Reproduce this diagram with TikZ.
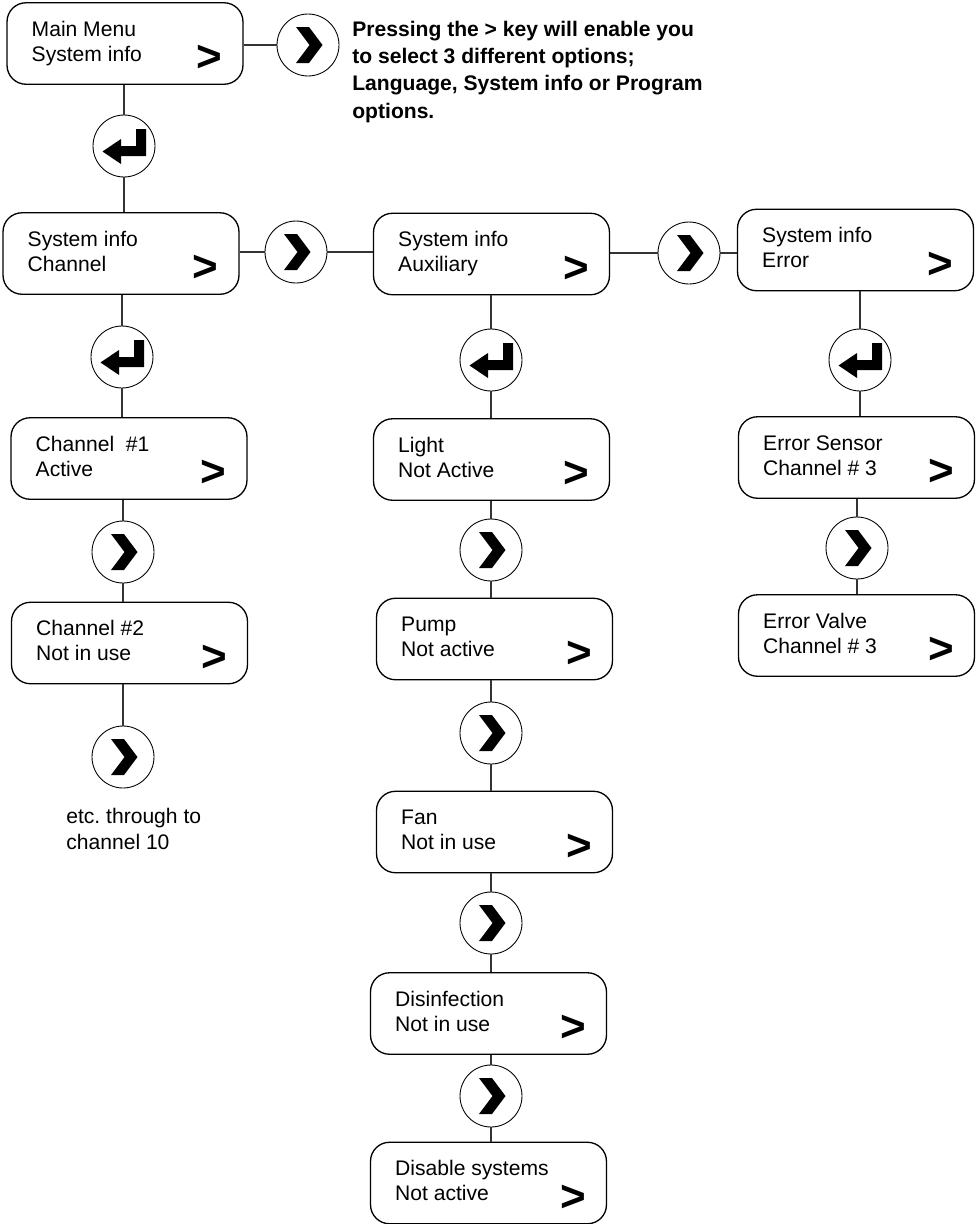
\documentclass[tikz,border=0pt]{standalone}
\usepackage{fontspec}
\setmainfont{Liberation Sans}
\usetikzlibrary{calc}
\frenchspacing

\tikzset{
  menu/.style={draw, rounded corners=0.38cm, minimum width=4.72cm, minimum height=1.63cm, line width=0.75pt},
  entry/.style={anchor=base west, align=left, inner sep=0pt, font=\fontsize{12}{14.2}\selectfont},
  gt/.style={inner sep=0pt, font=\fontsize{25}{25}\selectfont\bfseries},
  keyring/.style={draw, circle, minimum size=1.24cm, inner sep=0pt, line width=0.5pt},
  nextkey/.style={keyring, path picture={\fill[shift={(path picture bounding box.center)}] (-12,-18) -- (1,-18) -- (14.5,0) -- (1,18) -- (-12,18) -- (1.5,0) -- cycle;}},
  enterkey/.style={keyring, path picture={\fill[shift={(path picture bounding box.center)}] (12,-17) -- (22,-17) -- (22,10) -- (-3,10) -- (-3,18) -- (-21.5,5.5) -- (-3,-7) -- (-3,0) -- (12,0) -- cycle;}},
  wire/.style={line width=0.6pt, black!80}
}

\begin{document}
\begin{tikzpicture}[x=0.02cm, y=-0.02cm]
  \useasboundingbox (0,0) rectangle (977,1224);

  \node[menu] (main) at (125,43.5) {};
  \node[entry] (mainT) at ($(main.north west)+(25,59)$) {Main Menu\\System info};
  \node[gt] (mainG) at ($(main.north east)+(-34,56.5)$) {>};

  \node[nextkey] (chev0) at (308,45) {};
  \node[anchor=base west, align=left, inner sep=0pt, font=\fontsize{12}{15.5}\selectfont\bfseries] (note) at (352,118)
    {Pressing the > key will enable you\\to select 3 different options;\\Language, System info or Program\\options.};

  \node[enterkey] (enter0) at (124,146) {};

  \node[menu] (sysch) at (121,253.5) {};
  \node[entry] (syschT) at ($(sysch.north west)+(25,59)$) {System info\\Channel};
  \node[gt] (syschG) at ($(sysch.north east)+(-34,56.5)$) {>};

  \node[nextkey] (chevA) at (296,252) {};

  \node[menu] (sysaux) at (491.5,254) {};
  \node[entry] (sysauxT) at ($(sysaux.north west)+(25,59)$) {System info\\Auxiliary};
  \node[gt] (sysauxG) at ($(sysaux.north east)+(-34,56.5)$) {>};

  \node[nextkey] (chevB) at (689,253) {};

  \node[menu] (syserr) at (855.5,250) {};
  \node[entry] (syserrT) at ($(syserr.north west)+(25,59)$) {System info\\Error};
  \node[gt] (syserrG) at ($(syserr.north east)+(-34,56.5)$) {>};

  \node[enterkey] (enterC) at (122,357) {};
  \node[enterkey] (enterX) at (491,360) {};
  \node[enterkey] (enterE) at (860,360) {};

  \node[menu] (ch1) at (129,458.5) {};
  \node[entry] (ch1T) at ($(ch1.north west)+(25,59)$) {Channel~~\#1\\Active};
  \node[gt] (ch1G) at ($(ch1.north east)+(-34,56.5)$) {>};

  \node[nextkey] (chevC1) at (123,552) {};

  \node[menu] (ch2) at (129.5,643) {};
  \node[entry] (ch2T) at ($(ch2.north west)+(25,59)$) {Channel \#2\\Not in use};
  \node[gt] (ch2G) at ($(ch2.north east)+(-34,56.5)$) {>};

  \node[nextkey] (chevC2) at (123,757) {};
  \node[entry, font=\fontsize{12}{14.8}\selectfont] (etc) at (66,849) {etc. through to\\channel 10};

  \node[menu] (light) at (491.5,459.5) {};
  \node[entry] (lightT) at ($(light.north west)+(25,59)$) {Light\\Not Active};
  \node[gt] (lightG) at ($(light.north east)+(-34,56.5)$) {>};

  \node[nextkey] (chevX1) at (491,550) {};

  \node[menu] (pump) at (494.5,639) {};
  \node[entry] (pumpT) at ($(pump.north west)+(25,59)$) {Pump\\Not active};
  \node[gt] (pumpG) at ($(pump.north east)+(-34,56.5)$) {>};

  \node[nextkey] (chevX2) at (491,733) {};

  \node[menu] (fan) at (494.5,832) {};
  \node[entry] (fanT) at ($(fan.north west)+(25,59)$) {Fan\\Not in use};
  \node[gt] (fanG) at ($(fan.north east)+(-34,56.5)$) {>};

  \node[nextkey] (chevX3) at (491,923) {};

  \node[menu] (disinf) at (488.5,1013.5) {};
  \node[entry] (disinfT) at ($(disinf.north west)+(25,59)$) {Disinfection\\Not in use};
  \node[gt] (disinfG) at ($(disinf.north east)+(-34,56.5)$) {>};

  \node[nextkey] (chevX4) at (491,1096) {};

  \node[menu] (disable) at (488.5,1183) {};
  \node[entry] (disableT) at ($(disable.north west)+(25,59)$) {Disable systems\\Not active};
  \node[gt] (disableG) at ($(disable.north east)+(-34,56.5)$) {>};

  \node[menu] (errsens) at (856.5,457.5) {};
  \node[entry] (errsensT) at ($(errsens.north west)+(25,59)$) {Error Sensor\\Channel \# 3};
  \node[gt] (errsensG) at ($(errsens.north east)+(-34,56.5)$) {>};

  \node[nextkey] (chevE1) at (857,548) {};

  \node[menu] (errvalve) at (856.5,635.5) {};
  \node[entry] (errvalveT) at ($(errvalve.north west)+(25,59)$) {Error Valve\\Channel \# 3};
  \node[gt] (errvalveG) at ($(errvalve.north east)+(-34,56.5)$) {>};

  \draw[wire] (main.east |- chev0) -- (chev0);
  \draw[wire] (main.south -| enter0) -- (enter0);
  \draw[wire] (enter0) -- (enter0 |- sysch.north);
  \draw[wire] (sysch.east |- chevA) -- (chevA);
  \draw[wire] (chevA) -- (chevA -| sysaux.west);
  \draw[wire] (sysaux.east |- chevB) -- (chevB);
  \draw[wire] (chevB) -- (chevB -| syserr.west);

  \draw[wire] (sysch.south -| enterC) -- (enterC);
  \draw[wire] (enterC) -- (enterC |- ch1.north);
  \draw[wire] (ch1.south -| chevC1) -- (chevC1);
  \draw[wire] (chevC1) -- (chevC1 |- ch2.north);
  \draw[wire] (ch2.south -| chevC2) -- (chevC2);

  \draw[wire] (sysaux.south -| enterX) -- (enterX);
  \draw[wire] (enterX) -- (enterX |- light.north);
  \draw[wire] (light.south -| chevX1) -- (chevX1);
  \draw[wire] (chevX1) -- (chevX1 |- pump.north);
  \draw[wire] (pump.south -| chevX2) -- (chevX2);
  \draw[wire] (chevX2) -- (chevX2 |- fan.north);
  \draw[wire] (fan.south -| chevX3) -- (chevX3);
  \draw[wire] (chevX3) -- (chevX3 |- disinf.north);
  \draw[wire] (disinf.south -| chevX4) -- (chevX4);
  \draw[wire] (chevX4) -- (chevX4 |- disable.north);

  \draw[wire] (syserr.south -| enterE) -- (enterE);
  \draw[wire] (enterE) -- (enterE |- errsens.north);
  \draw[wire] (errsens.south -| chevE1) -- (chevE1);
  \draw[wire] (chevE1) -- (chevE1 |- errvalve.north);
\end{tikzpicture}
\end{document}
